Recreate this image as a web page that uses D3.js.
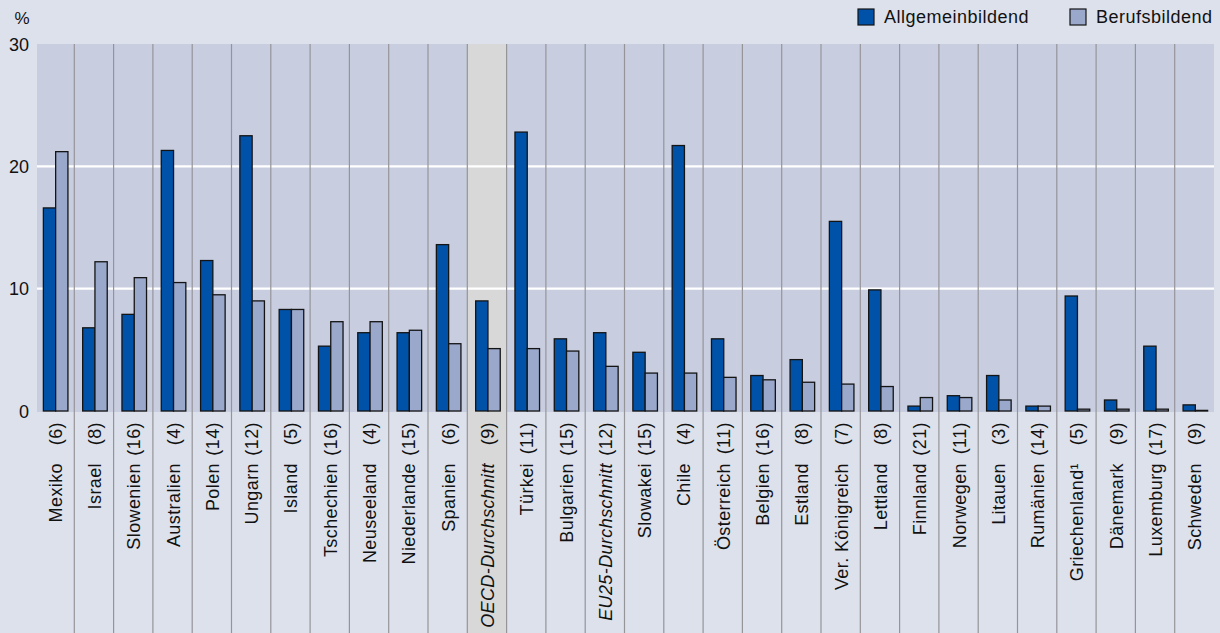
<!DOCTYPE html>
<html>
<head>
<meta charset="utf-8">
<script src="https://cdn.jsdelivr.net/npm/d3@7"></script>
<style>
  html, body { margin: 0; padding: 0; background: #dde1ec; }
  svg { display: block; font-family: "Liberation Sans", Arial, sans-serif; }
</style>
</head>
<body>
<svg id="chart" width="1220" height="633"></svg>
<script>
const categories = ["Mexiko","Israel","Slowenien","Australien","Polen","Ungarn","Island","Tschechien","Neuseeland","Niederlande","Spanien","OECD-Durchschnitt","Türkei","Bulgarien","EU25-Durchschnitt","Slowakei","Chile","Österreich","Belgien","Estland","Ver. Königreich","Lettland","Finnland","Norwegen","Litauen","Rumänien","Griechenland¹","Dänemark","Luxemburg","Schweden"];
const counts = ["(6)","(8)","(16)","(4)","(14)","(12)","(5)","(16)","(4)","(15)","(6)","(9)","(11)","(15)","(12)","(15)","(4)","(11)","(16)","(8)","(7)","(8)","(21)","(11)","(3)","(14)","(5)","(9)","(17)","(9)"];
const averages = ["OECD-Durchschnitt","EU25-Durchschnitt"];
const highlighted = ["OECD-Durchschnitt"];
const allgemeinbildend = [16.6,6.8,7.9,21.3,12.3,22.5,8.3,5.3,6.4,6.4,13.6,9.0,22.8,5.9,6.4,4.8,21.7,5.9,2.9,4.2,15.5,9.9,0.4,1.25,2.9,0.4,9.4,0.9,5.3,0.5];
const berufsbildend  = [21.2,12.2,10.9,10.5,9.5,9.0,8.3,7.3,7.3,6.6,5.5,5.1,5.1,4.9,3.65,3.1,3.1,2.75,2.55,2.35,2.2,2.0,1.1,1.1,0.9,0.4,0.15,0.15,0.15,0.05];
const seriesNames = ["Allgemeinbildend","Berufsbildend"];
const seriesColors = ["#0052a8","#9aa8cc"];
const yTicks = [0,10,20,30];

const svg = d3.select("#chart");
const W = 1220, H = 633;
const plotLeft = 37, plotRight = 1214, plotTop = 44, plotBottom = 411;

const x = d3.scaleBand().domain(categories).range([35, 1214]).paddingInner(0).paddingOuter(0);
const xs = d3.scaleBand().domain(seriesNames).range([0, x.bandwidth()]).paddingInner(0).paddingOuter(0.6);
const y = d3.scaleLinear().domain([0, 30]).range([plotBottom, plotTop]);

// plot background
svg.append("rect").attr("x", plotLeft).attr("y", plotTop)
  .attr("width", plotRight - plotLeft).attr("height", plotBottom - plotTop + 1)
  .attr("fill", "#c8cee0");

// highlighted band
svg.selectAll("rect.hl").data(highlighted).enter().append("rect")
  .attr("x", d => x(d)).attr("y", plotTop)
  .attr("width", x.bandwidth()).attr("height", H - plotTop)
  .attr("fill", "#d8d8d8");

// white gridlines
svg.selectAll("line.grid").data(yTicks.filter(t => t > 0 && t < 30)).enter().append("line")
  .attr("x1", plotLeft).attr("x2", plotRight)
  .attr("y1", d => y(d)).attr("y2", d => y(d))
  .attr("stroke", "#ffffff").attr("stroke-width", 2.2);

// separators
svg.selectAll("line.sep").data(categories.slice(1)).enter().append("line")
  .attr("x1", d => x(d)).attr("x2", d => x(d))
  .attr("y1", plotTop).attr("y2", H)
  .attr("stroke", "#959599").attr("stroke-width", 1.2);

// bars
const groups = svg.selectAll("g.cat").data(categories).enter().append("g")
  .attr("transform", d => `translate(${x(d) + 1},0)`);
groups.each(function(c, i) {
  const vals = [allgemeinbildend[i], berufsbildend[i]];
  d3.select(this).selectAll("rect").data(vals).enter().append("rect")
    .attr("x", (v, j) => xs(seriesNames[j]))
    .attr("y", v => y(v))
    .attr("width", xs.bandwidth())
    .attr("height", v => y(0) - y(v))
    .attr("fill", (v, j) => seriesColors[j])
    .attr("stroke", "#141414").attr("stroke-width", 1.3);
});

// y axis
const yAxis = d3.axisLeft(y).tickValues(yTicks).tickSize(0).tickPadding(0);
const ya = svg.append("g").attr("transform", "translate(29,0)").call(yAxis);
ya.select(".domain").remove();
ya.selectAll("text").attr("font-size", 18).attr("fill", "#111")
  .attr("font-family", "'Liberation Sans', Arial, sans-serif").attr("dy", "0.35em");

svg.append("text").attr("x", 22).attr("y", 24).attr("text-anchor", "middle")
  .attr("font-size", 17).attr("fill", "#111").text("%");

// category labels
const lab = svg.append("g");
categories.forEach((c, i) => {
  const cx = x(c) + x.bandwidth() / 2 + 1;
  lab.append("text")
    .attr("transform", `translate(${cx},463) rotate(-90)`)
    .attr("text-anchor", "end").attr("dominant-baseline", "central")
    .attr("font-size", 18).attr("letter-spacing", 0.4).attr("fill", "#111")
    .attr("font-style", averages.includes(c) ? "italic" : "normal")
    .text(c);
  lab.append("text")
    .attr("transform", `translate(${cx},422) rotate(-90)`)
    .attr("text-anchor", "end").attr("dominant-baseline", "central")
    .attr("font-size", 18).attr("letter-spacing", 0.4).attr("fill", "#111")
    .text(counts[i]);
});

// legend
const legendX = [858, 1070];
seriesNames.forEach((s, j) => {
  svg.append("rect").attr("x", legendX[j]).attr("y", 9).attr("width", 16).attr("height", 16)
    .attr("fill", seriesColors[j]).attr("stroke", "#141414").attr("stroke-width", 1.2);
  svg.append("text").attr("x", legendX[j] + 26).attr("y", 23)
    .attr("font-size", 18).attr("letter-spacing", 0.5).attr("fill", "#111").text(s);
});
</script>
</body>
</html>
